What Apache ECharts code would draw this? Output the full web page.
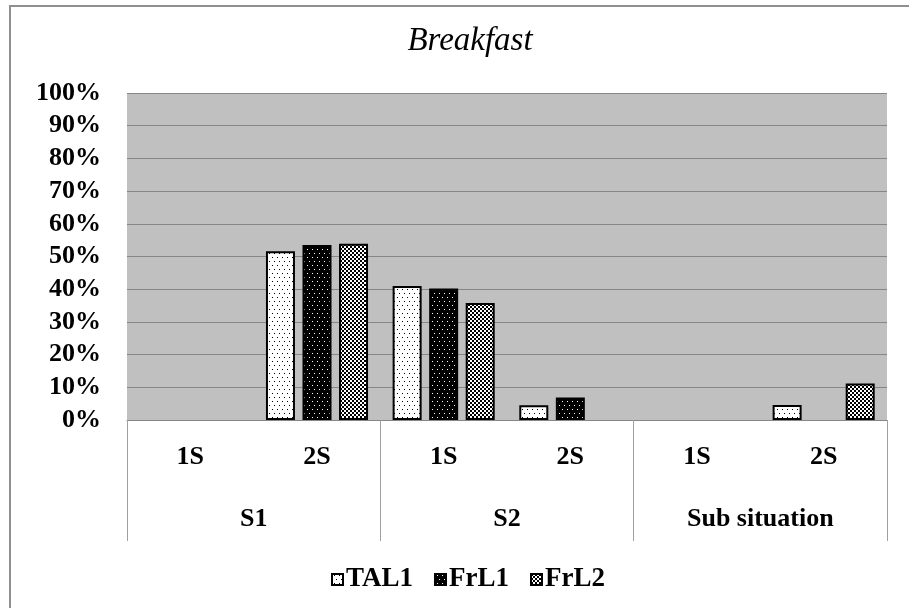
<!DOCTYPE html>
<html>
<head>
<meta charset="utf-8">
<script src="https://cdn.jsdelivr.net/npm/echarts@6/dist/echarts.min.js"></script>
<style>
html,body{margin:0;padding:0;background:#fff;}
#chart{width:909px;height:608px;}
</style>
</head>
<body>
<div id="chart"></div>
<script>
var titleText = 'Breakfast';
var subCategories = ['1S', '2S', '1S', '2S', '1S', '2S'];
var groupCategories = ['S1', 'S2', 'Sub situation'];
var seriesNames = ['TAL1', 'FrL1', 'FrL2'];
var tal1 = [0, 51.6, 41.0, 4.5, 0, 4.6];
var frl1 = [0, 53.5, 40.2, 6.9, 0, 0];
var frl2 = [0, 53.9, 35.8, 0, 0, 11.2];
var yTicks = [0, 10, 20, 30, 40, 50, 60, 70, 80, 90, 100];

function makePattern(kind) {
  var c = document.createElement('canvas');
  var ctx = c.getContext('2d');
  if (kind === 'checker') {
    c.width = 4; c.height = 4;
    ctx.fillStyle = '#fff'; ctx.fillRect(0, 0, 4, 4);
    ctx.fillStyle = '#000';
    ctx.fillRect(0, 0, 2, 2); ctx.fillRect(2, 2, 2, 2);
  } else {
    var bg = kind === 'light' ? '#fff' : '#000';
    var fg = kind === 'light' ? '#000' : '#fff';
    c.width = 10; c.height = 8;
    ctx.fillStyle = bg; ctx.fillRect(0, 0, 10, 8);
    ctx.fillStyle = fg;
    ctx.fillRect(2, 1, 1, 1); ctx.fillRect(7, 1, 1, 1);
    ctx.fillRect(4, 5, 1, 1); ctx.fillRect(9, 5, 1, 1);
  }
  return { image: c, repeat: 'repeat' };
}
var patterns = [makePattern('light'), makePattern('dark'), makePattern('checker')];
var values = [tal1, frl1, frl2];

var font = '"Liberation Serif", "Times New Roman", serif';
var chart = echarts.init(document.getElementById('chart'), null, { renderer: 'canvas' });

var series = seriesNames.map(function (name, i) {
  return {
    name: name,
    type: 'bar',
    barWidth: 29,
    barGap: '26%',
    data: values[i].map(function (v) { return v === 0 ? '-' : v; }),
    itemStyle: { color: patterns[i], borderColor: '#000', borderWidth: 2 },
    emphasis: { disabled: true }
  };
});

chart.setOption({
  animation: false,
  backgroundColor: '#fff',
  title: {
    text: titleText,
    left: 465,
    textAlign: 'center',
    top: 20,
    textStyle: { fontFamily: font, fontStyle: 'italic', fontWeight: 'normal', fontSize: 33, color: '#000' }
  },
  legend: {
    data: seriesNames,
    left: 326,
    top: 561,
    itemWidth: 11,
    itemHeight: 11,
    itemGap: 21,
    icon: 'rect',
    itemStyle: { borderColor: '#000', borderWidth: 2 },
    textStyle: { fontFamily: font, fontWeight: 'bold', fontSize: 27, color: '#000', padding: [0, 0, 0, -2] }
  },
  grid: {
    left: 127, right: 22, top: 93, bottom: 188,
    show: true, backgroundColor: '#c0c0c0', borderWidth: 0
  },
  xAxis: [
    {
      type: 'category',
      data: subCategories,
      axisLine: { show: true, lineStyle: { color: '#868686', width: 1 } },
      axisTick: { show: false },
      axisLabel: { margin: 24, fontFamily: font, fontWeight: 'bold', fontSize: 26, color: '#000', interval: 0 }
    },
    {
      type: 'category',
      data: groupCategories,
      position: 'bottom',
      axisLine: { show: false },
      axisTick: { show: true, length: 121, interval: 0, lineStyle: { color: '#a0a0a0', width: 1 } },
      axisLabel: { margin: 86, fontFamily: font, fontWeight: 'bold', fontSize: 26, color: '#000', interval: 0 }
    }
  ],
  yAxis: {
    type: 'value',
    min: yTicks[0],
    max: yTicks[yTicks.length - 1],
    interval: 10,
    axisLine: { show: false },
    axisTick: { show: false },
    splitLine: { show: true, lineStyle: { color: '#868686', width: 1 } },
    axisLabel: { margin: 26, formatter: '{value}%', fontFamily: font, fontWeight: 'bold', fontSize: 26, color: '#000' }
  },
  graphic: [
    {
      type: 'rect',
      shape: { x: 10, y: 6, width: 1000, height: 1000 },
      style: { fill: 'none', stroke: '#909090', lineWidth: 2 },
      silent: true
    }
  ],
  series: series
});
</script>
</body>
</html>
